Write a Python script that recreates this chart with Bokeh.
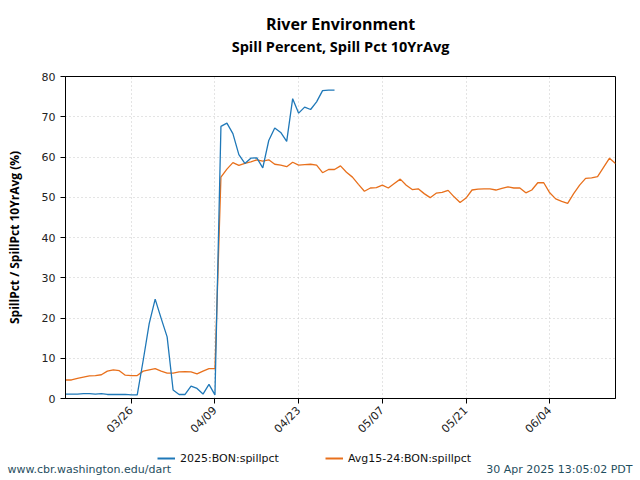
import math
from datetime import datetime
import pandas as pd
from bokeh.plotting import figure
from bokeh.layouts import column
from bokeh.models import (Range1d, FixedTicker, DatetimeTickFormatter, Label,
                          Legend, LegendItem, ColumnDataSource)
from bokeh.embed import file_html
from bokeh.resources import INLINE

# ---------------- data ----------------
start_date = "2025-03-15"
spill_2025 = [1.1, 1.1, 1.1, 1.2, 1.2, 1.1, 1.2, 1.0, 1.0, 1.0, 1.0, 0.9,
              0.9, 9.5, 18.6, 24.7, 19.9, 15.3, 2.1, 1.0, 1.0, 3.1, 2.5, 1.1,
              3.5, 0.9, 67.6, 68.4, 65.8, 60.6, 58.4, 59.7, 59.8, 57.3, 64.1,
              67.2, 66.1, 63.9, 74.5, 70.9, 72.4, 71.8, 73.7, 76.5, 76.6, 76.6]
spill_avg = [4.6, 4.6, 5.0, 5.3, 5.6, 5.7, 5.9, 6.8, 7.1, 6.9,
             5.8, 5.7, 5.7, 6.8, 7.1, 7.4, 6.8, 6.3, 6.3, 6.6,
             6.7, 6.6, 6.1, 6.8, 7.4, 7.4,
             55.0, 57.0, 58.6, 57.9, 58.4, 58.8, 59.3, 59.0, 59.3, 58.2,
             58.0, 57.6, 58.7, 58.0, 58.1, 58.2, 58.0, 56.1, 56.9, 56.9,
             57.8, 56.2, 55.0, 53.2,
             51.5, 52.3, 52.4, 53.0, 52.3, 53.4, 54.5, 53.0, 51.9, 52.1,
             50.9, 49.9, 51.0, 51.2, 51.7, 50.1, 48.7, 49.8, 51.8, 52.0,
             52.1, 52.1, 51.8, 52.2, 52.6, 52.3, 52.3, 51.1, 51.8, 53.6,
             53.6, 51.1, 49.6, 49.0, 48.5, 50.9, 53.0, 54.7, 54.8, 55.1,
             57.4, 59.7, 58.4]
tick_dates = ["2025-03-26", "2025-04-09", "2025-04-23", "2025-05-07",
              "2025-05-21", "2025-06-04"]
y_ticks = [0, 10, 20, 30, 40, 50, 60, 70, 80]
series_names = ["2025:BON:spillpct", "Avg15-24:BON:spillpct"]
title_text = "River Environment"
subtitle_text = "Spill Percent, Spill Pct 10YrAvg"
footer_left = "www.cbr.washington.edu/dart"
footer_right = "30 Apr 2025 13:05:02 PDT"

dates_2025 = pd.date_range(start_date, periods=len(spill_2025), freq="D")
dates_avg = pd.date_range(start_date, periods=len(spill_avg), freq="D")

BLUE = "#1f78b8"
ORANGE = "#e8701c"
FOOT = "#1f4e5e"
W = 640


def blank(h):
    f = figure(width=W, height=h, output_backend="svg", toolbar_location=None,
               x_range=Range1d(0, W), y_range=Range1d(0, h),
               min_border=0, x_axis_location=None, y_axis_location=None)
    f.outline_line_color = None
    f.xgrid.visible = False
    f.ygrid.visible = False
    f.title.visible = False
    try:
        f.frame_align = False
    except AttributeError:
        pass
    return f


# ---------------- header ----------------
head = blank(60)
head.add_layout(Label(x=340, y=37, x_units="screen", y_units="screen",
                      text=title_text, text_align="center",
                      text_baseline="middle", text_font="Open Sans",
                      text_font_style="bold", text_font_size="16px",
                      text_color="black"))
head.add_layout(Label(x=340, y=14, x_units="screen", y_units="screen",
                      text=subtitle_text, text_align="center",
                      text_baseline="middle", text_font="Open Sans",
                      text_font_style="bold", text_font_size="14.5px",
                      text_color="black"))

# ---------------- main plot ----------------
p = figure(width=W, height=385, output_backend="svg", toolbar_location=None,
           x_axis_type="datetime",
           x_range=Range1d(datetime(2025, 3, 15), datetime(2025, 6, 15)),
           y_range=Range1d(0, 80),
           min_border_left=65, min_border_right=25, min_border_top=16,
           min_border_bottom=47)
p.title.visible = False

src1 = ColumnDataSource(dict(x=dates_2025, y=spill_2025))
src2 = ColumnDataSource(dict(x=dates_avg, y=spill_avg))
r2 = p.line("x", "y", source=src2, line_color=ORANGE, line_width=1.3)
r1 = p.line("x", "y", source=src1, line_color=BLUE, line_width=1.3)

ms = [pd.Timestamp(d).value / 1e6 for d in tick_dates]
p.xaxis.ticker = FixedTicker(ticks=ms)
p.xaxis.formatter = DatetimeTickFormatter(days="%m/%d", months="%m/%d")
p.xaxis.major_label_orientation = math.pi / 4
p.yaxis.ticker = FixedTicker(ticks=y_ticks)
for ax in (p.xaxis, p.yaxis):
    ax.major_label_text_font = "DejaVu Sans"
    ax.major_label_text_font_size = "11px"
    ax.major_label_text_color = "#222222"
    ax.axis_line_color = "black"
    ax.major_tick_line_color = "black"
    ax.major_tick_out = 5
    ax.major_tick_in = 0
    ax.minor_tick_line_color = None
p.yaxis.axis_label = "SpillPct / SpillPct 10YrAvg (%)"
p.yaxis.axis_label_text_font = "Open Sans"
p.yaxis.axis_label_text_font_style = "bold"
p.yaxis.axis_label_text_font_size = "12px"
p.yaxis.axis_label_text_color = "black"
p.yaxis.axis_label_standoff = 16

p.outline_line_color = "black"
p.outline_line_alpha = 1
for g in (p.xgrid, p.ygrid):
    g.grid_line_color = "#c8c8c8"
    g.grid_line_dash = "1 3"
p.ygrid.ticker = FixedTicker(ticks=y_ticks)
p.xgrid.ticker = FixedTicker(ticks=ms)

# ---------------- footer with legend ----------------
foot = blank(35)
# legend renderers share the series' sources (they fall outside this panel's view)
lr1 = foot.line("x", "y", source=src1, line_color=BLUE, line_width=2)
lr2 = foot.line("x", "y", source=src2, line_color=ORANGE, line_width=2)
legend = Legend(items=[LegendItem(label=series_names[0], renderers=[lr1]),
                       LegendItem(label=series_names[1], renderers=[lr2])],
                location=(157, 15), orientation="horizontal",
                padding=0, margin=0, spacing=46, glyph_width=18,
                glyph_height=14, label_height=14, label_standoff=5,
                label_text_font="DejaVu Sans", label_text_font_size="11px",
                label_text_color="#111111", border_line_color=None,
                background_fill_alpha=0)
foot.add_layout(legend, "center")
foot.add_layout(Label(x=7, y=11, x_units="screen", y_units="screen",
                      text=footer_left, text_align="left",
                      text_baseline="middle", text_font="DejaVu Sans",
                      text_font_size="11px", text_color=FOOT))
foot.add_layout(Label(x=632, y=11, x_units="screen", y_units="screen",
                      text=footer_right, text_align="right",
                      text_baseline="middle", text_font="DejaVu Sans",
                      text_font_size="11px", text_color=FOOT))

page = column(head, p, foot, spacing=0)
open("out.html", "w").write(file_html(page, INLINE))
